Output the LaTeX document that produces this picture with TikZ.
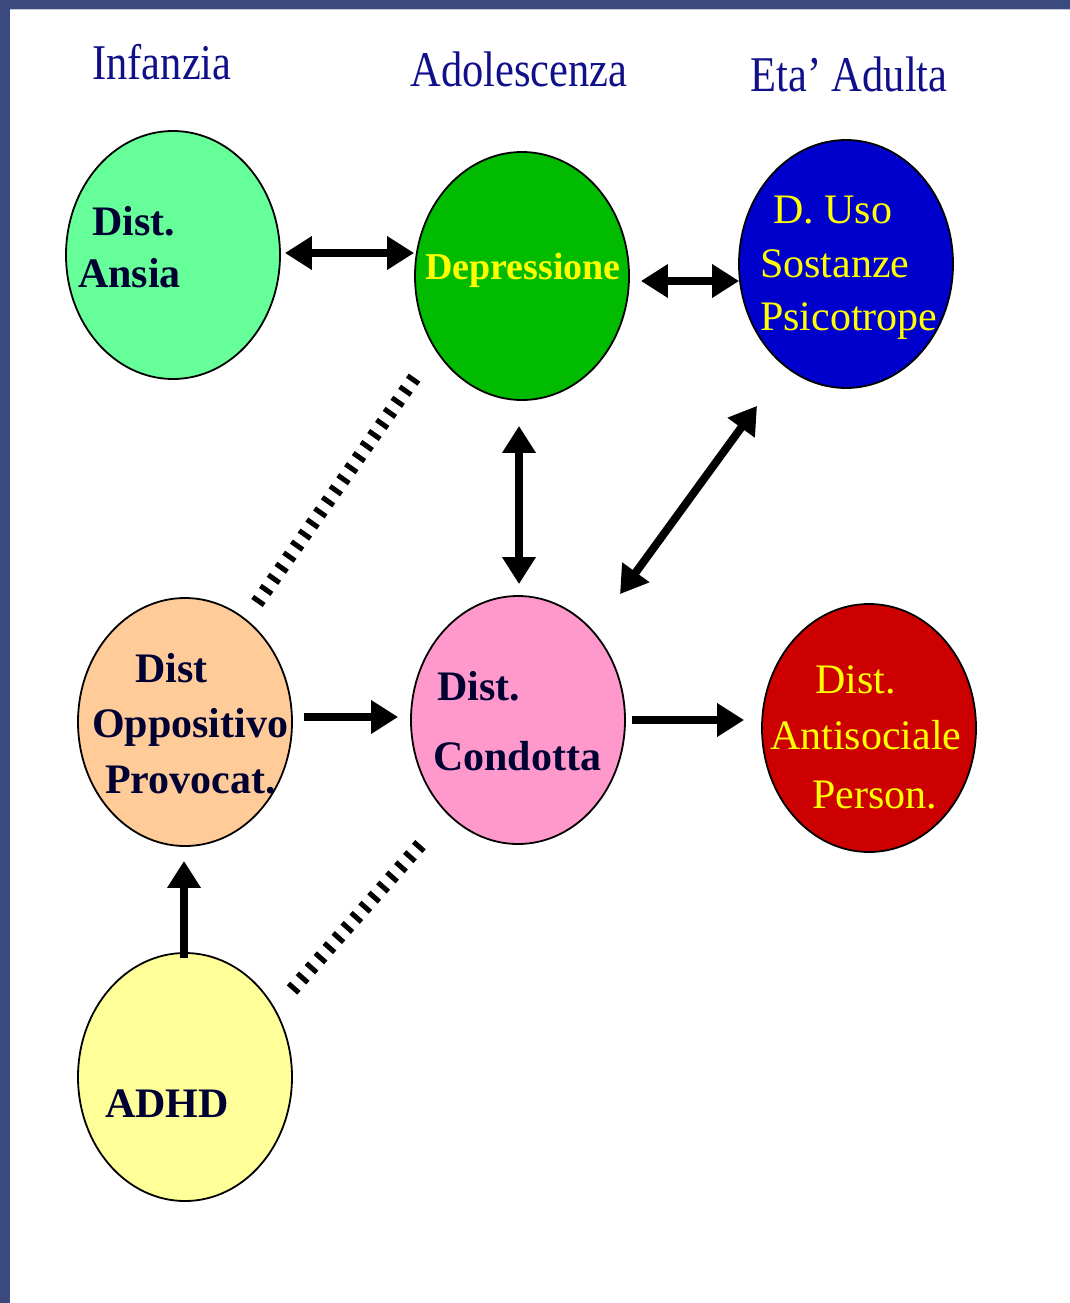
\documentclass[tikz,border=0pt]{standalone}
\usepackage{fontspec}
\setmainfont{Liberation Serif}
\newfontfamily\headfont{Liberation Serif}[FakeStretch=0.85]
\usetikzlibrary{shapes.geometric,arrows.meta,calc}
\definecolor{barblue}{HTML}{3A4A7E}
\definecolor{headblue}{HTML}{10108A}
\definecolor{darktxt}{HTML}{000033}
\definecolor{ytxt}{HTML}{FFFF00}
\definecolor{cansia}{HTML}{66FF99}
\definecolor{cdep}{HTML}{00BB00}
\definecolor{cuso}{HTML}{0000CC}
\definecolor{copp}{HTML}{FFCC99}
\definecolor{ccond}{HTML}{FF99CC}
\definecolor{canti}{HTML}{CC0000}
\definecolor{cadhd}{HTML}{FFFF99}
\tikzset{
  ell/.style={ellipse, draw=black, line width=1.8pt, minimum width=214pt, minimum height=248pt, inner sep=0pt},
  head/.style={font=\headfont\fontsize{50}{55}\selectfont, text=headblue, anchor=base, inner sep=0pt},
  dtext/.style={font=\fontsize{42}{48}\selectfont\bfseries, text=darktxt, anchor=base west, inner sep=0pt},
  ytext/.style={font=\fontsize{42}{48}\selectfont, text=ytxt, anchor=base west, inner sep=0pt},
  arr/.style={line width=8pt, -{Triangle[length=27pt,width=32pt]}},
  dbl/.style={line width=8pt, {Triangle[length=27pt,width=32pt]}-{Triangle[length=27pt,width=32pt]}},
  hatch/.style={line width=14pt, dash pattern=on 5pt off 8.5pt}
}
\begin{document}
\begin{tikzpicture}[x=1pt,y=-1pt]
\useasboundingbox (0,0) rectangle (1070,1303);
\fill[white] (0,0) rectangle (1070,1303);
\fill[barblue] (0,0) rectangle (1070,9);
\fill[barblue] (0,0) rectangle (10,1303);
\draw[white!70!barblue, line width=1pt] (10,9.5) -- (1070,9.5);

% headings
\node[head] (hinf) at (162,80) {Infanzia};
\node[head] (hado) at (519,87) {Adolescenza};
\node[head] (heta) at (849,92) {Eta’ Adulta};

% ellipses
\node[ell, fill=cansia] (ansia) at (173,255) {};
\node[ell, fill=cdep] (dep) at (522,276) {};
\node[ell, fill=cuso] (uso) at (846,264) {};
\node[ell, fill=copp] (opp) at (185,722) {};
\node[ell, fill=ccond] (cond) at (518,720) {};
\node[ell, fill=canti] (anti) at (869,728) {};
\node[ell, fill=cadhd] (adhd) at (185,1077) {};

% texts
\node[dtext] (t1a) at (92,235) {Dist.};
\node[dtext] (t1b) at (78,287) {Ansia};
\node[dtext, text=ytxt, font=\fontsize{38}{42}\selectfont\bfseries] (t2) at (425,279) {Depressione};
\node[ytext] (t3a) at (773,223) {D. Uso};
\node[ytext] (t3b) at (760,277) {Sostanze};
\node[ytext] (t3c) at (760,330) {Psicotrope};
\node[dtext] (t4a) at (135,682) {Dist};
\node[dtext] (t4b) at (92,737) {Oppositivo};
\node[dtext] (t4c) at (105,793) {Provocat.};
\node[dtext] (t5a) at (437,700) {Dist.};
\node[dtext] (t5b) at (433,770) {Condotta};
\node[ytext] (t6a) at (815,693) {Dist.};
\node[ytext] (t6b) at (770,749) {Antisociale};
\node[ytext] (t6c) at (812,808) {Person.};
\node[dtext] (t7) at (105,1117) {ADHD};

% arrows
\draw[dbl] ([xshift=4pt,yshift=2pt]ansia.east) -- ([yshift=23pt]dep.west);
\draw[dbl] ([xshift=11pt,yshift=-5pt]dep.east) -- ([xshift=1pt,yshift=-17pt]uso.west);
\draw[dbl] ([xshift=-3pt,yshift=-25pt]dep.south) -- ([xshift=1pt,yshift=11pt]cond.north);
\draw[dbl] ([xshift=-89pt,yshift=-17pt]uso.south) -- ([xshift=102pt,yshift=1pt]cond.north);
\draw[arr] ([xshift=11pt,yshift=5pt]opp.east) -- ([xshift=-12pt,yshift=3pt]cond.west);
\draw[arr] ([xshift=6pt]cond.east) -- ([xshift=-17pt,yshift=8pt]anti.west);
\draw[arr] ([xshift=-1pt,yshift=-6pt]adhd.north) -- ([xshift=-1pt,yshift=-14pt]opp.south);

% hatched links
\coordinate (h1s) at (257,603);
\coordinate (h1e) at (415,377);
\coordinate (h2s) at (292,990);
\coordinate (h2e) at (422,843);
\draw[hatch] (h1s) -- (h1e);
\draw[hatch] (h2s) -- (h2e);
\end{tikzpicture}
\end{document}
